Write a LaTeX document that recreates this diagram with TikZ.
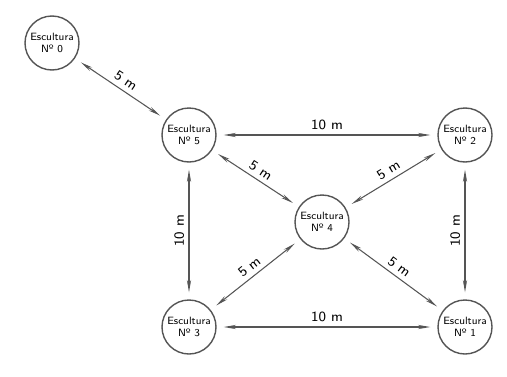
\documentclass[tikz,border=0pt]{standalone}
\usepackage{fontspec}
\usetikzlibrary{arrows.meta}
\definecolor{sculptGray}{HTML}{555555}

\tikzset{
  sculpture/.style={circle, draw=sculptGray, line width=0.8pt, minimum size=1.08cm,
    inner sep=0pt, align=center, font=\sffamily\fontsize{6}{7}\selectfont},
  spacing/.style={{Stealth[length=7pt,width=2.4pt]}-{Stealth[length=7pt,width=2.4pt]},
    draw=sculptGray, line width=0.6pt, shorten <=4pt, shorten >=4pt},
  dlabel/.style={midway, above=1.5pt, sloped, inner sep=1pt, font=\sffamily\fontsize{8}{9}\selectfont}
}

\begin{document}
\begin{tikzpicture}
            \useasboundingbox (0,0) rectangle (10.14,7.52);
            \node[sculpture] (s0) at (1.04,6.66) {Escultura\\Nº 0};
            \node[sculpture] (s5) at (3.78,4.82) {Escultura\\Nº 5};
            \node[sculpture] (s2) at (9.30,4.82) {Escultura\\Nº 2};
            \node[sculpture] (s4) at (6.44,3.08) {Escultura\\Nº 4};
            \node[sculpture] (s3) at (3.78,0.98) {Escultura\\Nº 3};
            \node[sculpture] (s1) at (9.30,0.98) {Escultura\\Nº 1};
            \draw[spacing] (s0) -- (s5) node[dlabel] {5 m};
            \draw[spacing] (s5) -- (s2) node[dlabel] {10 m};
            \draw[spacing] (s5) -- (s4) node[dlabel] {5 m};
            \draw[spacing] (s4) -- (s2) node[dlabel] {5 m};
            \draw[spacing] (s3) -- (s5) node[dlabel] {10 m};
            \draw[spacing] (s1) -- (s2) node[dlabel] {10 m};
            \draw[spacing] (s3) -- (s4) node[dlabel] {5 m};
            \draw[spacing] (s4) -- (s1) node[dlabel] {5 m};
            \draw[spacing] (s3) -- (s1) node[dlabel] {10 m};
        \end{tikzpicture}
\end{document}
